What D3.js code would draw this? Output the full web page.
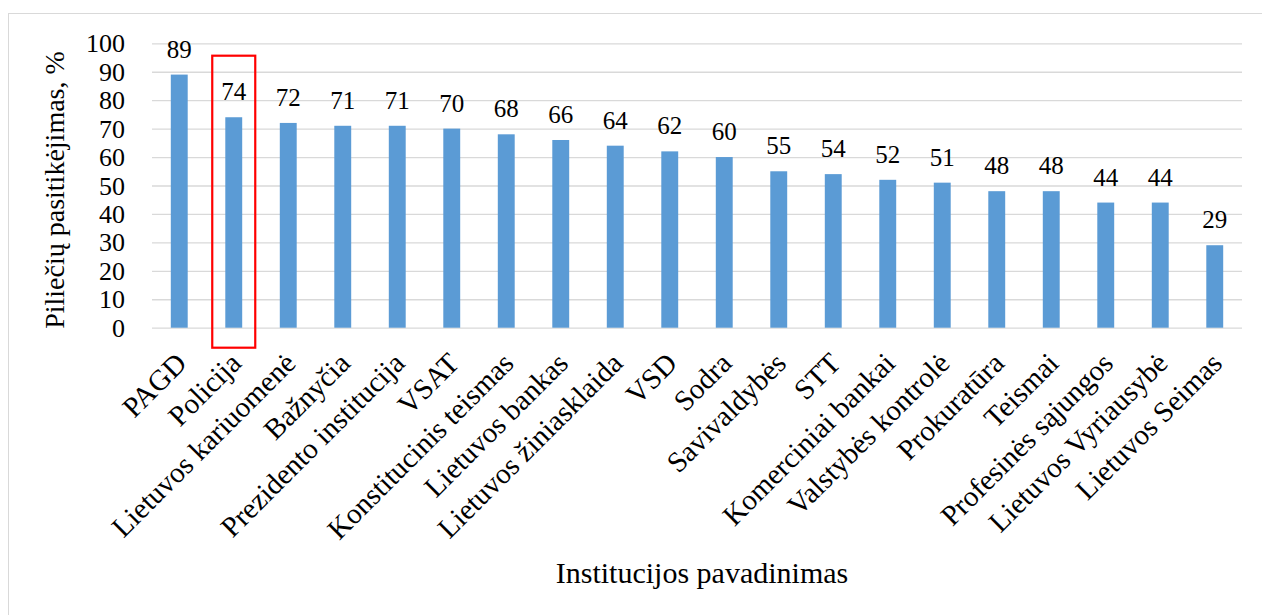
<!DOCTYPE html>
<html><head><meta charset="utf-8">
<script src="https://cdn.jsdelivr.net/npm/d3@7"></script>
<style>body{margin:0;background:#fff}svg{display:block}svg text{font-family:"Liberation Serif",serif;fill:#000}</style>
</head><body><svg id="c" width="1262" height="615"></svg>
<script>
const categories = ["PAGD","Policija","Lietuvos kariuomenė","Bažnyčia","Prezidento institucija","VSAT","Konstitucinis teismas","Lietuvos bankas","Lietuvos žiniasklaida","VSD","Sodra","Savivaldybės","STT","Komerciniai bankai","Valstybės kontrolė","Prokuratūra","Teismai","Profesinės sąjungos","Lietuvos Vyriausybė","Lietuvos Seimas"];
const values = [89,74,72,71,71,70,68,66,64,62,60,55,54,52,51,48,48,44,44,29];
const yTicks = [0,10,20,30,40,50,60,70,80,90,100];
const highlighted = ["Policija"];

const FONT = "Liberation Serif, serif";
const svg = d3.select("#c");
const m = {left:152, right:1242, top:43.3, bottom:327.7};
svg.append("rect").attr("x",8.5).attr("y",13.5).attr("width",1300).attr("height",700)
  .attr("fill","none").attr("stroke","#d9d9d9");

const x = d3.scaleBand().domain(categories).range([m.left,m.right]).paddingInner(0.69).paddingOuter(0.345);
const y = d3.scaleLinear().domain([0,100]).range([m.bottom,m.top]);

const gy = svg.append("g").attr("transform",`translate(${m.left},0)`)
  .call(d3.axisLeft(y).tickValues(yTicks).tickSize(-(m.right-m.left)).tickPadding(27))
  .attr("font-family",FONT).attr("font-size",26);
gy.select(".domain").remove();
gy.selectAll(".tick line").attr("stroke","#d9d9d9").attr("stroke-width",1.3);
gy.selectAll(".tick text").attr("font-size",26).attr("font-family",FONT).attr("fill","#000").attr("dy","0.33em");

svg.append("g").selectAll("rect.bar").data(values).join("rect").attr("class","bar")
  .attr("x",(d,i)=>x(categories[i])).attr("width",x.bandwidth())
  .attr("y",d=>y(d)).attr("height",d=>y(0)-y(d)).attr("fill","#5b9bd5");

svg.append("g").attr("font-family",FONT).selectAll("text").data(values).join("text")
  .attr("x",(d,i)=>x(categories[i])+x.bandwidth()/2).attr("y",d=>y(d)-17)
  .attr("text-anchor","middle").attr("font-size",25).text(d=>d);

svg.append("g").attr("font-family",FONT).selectAll("text").data(categories).join("text")
  .attr("transform",d=>`translate(${x(d)+x.bandwidth()/2+9},${365}) rotate(-45)`)
  .attr("text-anchor","end").attr("font-size",29).text(d=>d);

highlighted.forEach(c=>{
  const cx = x(c)+x.bandwidth()/2;
  svg.append("rect").attr("x",cx-21.5).attr("y",55.7).attr("width",43).attr("height",292)
    .attr("fill","none").attr("stroke","#ff0000").attr("stroke-width",2.2);
});

svg.append("text").attr("font-family",FONT).attr("transform",`translate(64,190) rotate(-90)`)
  .attr("text-anchor","middle").attr("font-size",28).text("Piliečių pasitikėjimas, %");
svg.append("text").attr("font-family",FONT).attr("x",702).attr("y",583).attr("text-anchor","middle").attr("font-size",30).text("Institucijos pavadinimas");
</script></body></html>
